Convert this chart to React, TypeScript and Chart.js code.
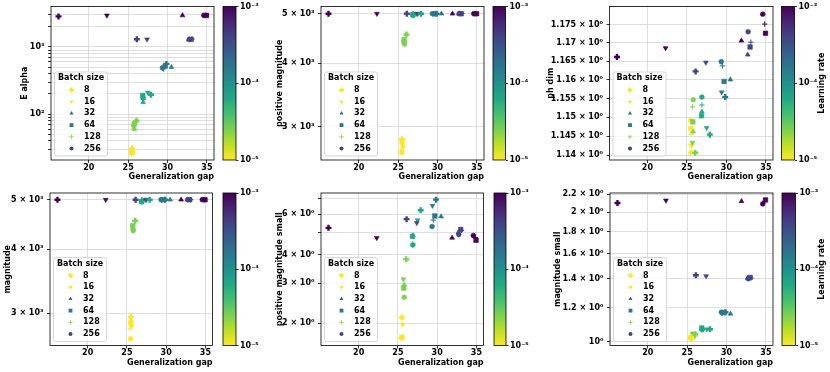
import React, { useEffect, useRef } from 'react';
import { Chart, registerables } from 'chart.js';

Chart.register(...registerables);

const FIG_W = 830;
const FIG_H = 372;
const FONT_FAMILY = '"DejaVu Sans", sans-serif';
Chart.defaults.font.family = FONT_FAMILY;

// ---------------- data ----------------
const BATCH_SIZES = [8, 16, 32, 64, 128, 256];
const LEARNING_RATES = [1e-5, 2.5e-5, 6.3e-5, 1.6e-4, 4e-4, 1e-3];

// rows follow LEARNING_RATES, columns follow BATCH_SIZES
const GEN_GAP = [
  [25.5, 25.6, 25.6, 25.5, 25.4, 25.45],
  [26.05, 25.7, 25.8, 25.75, 25.7, 25.8],
  [27.9, 27.5, 26.9, 26.85, 26.9, 26.9],
  [29.85, 29.4, 30.5, 29.7, 29.5, 29.35],
  [26.1, 27.4, 32.7, 33.0, 33.1, 32.75],
  [16.15, 22.3, 31.9, 34.95, 34.85, 34.6],
];
const E_ALPHA = [
  [31, 28, 26, 29, 25, 27],
  [80, 66, 60, 70, 62, 74],
  [195, 210, 150, 190, 165, 175],
  [560, 480, 500, 520, 470, 490],
  [1300, 1300, 1290, 1300, 1310, 1290],
  [2850, 2950, 2950, 2950, 2950, 2950],
];
const POS_MAGNITUDE = [
  [2840, 2730, 2760, 2800, 2700, 2670],
  [4550, 4400, 4420, 4450, 4380, 4360],
  [5000, 5000, 4990, 4980, 5000, 4960],
  [5000, 5000, 5000, 5000, 5000, 5000],
  [5000, 5000, 5000, 5000, 5000, 5000],
  [5000, 5000, 5000, 5000, 5000, 5000],
];
const PH_DIM = [
  [1.1407, 1.1425, 1.1458, 1.1471, 1.1427, 1.1492],
  [1.1406, 1.1433, 1.1462, 1.1488, 1.1528, 1.1547],
  [1.1454, 1.1472, 1.1515, 1.1504, 1.1533, 1.1554],
  [1.1554, 1.1567, 1.1601, 1.1596, 1.1638, 1.1649],
  [1.1623, 1.1647, 1.1668, 1.1689, 1.1702, 1.173],
  [1.1662, 1.1686, 1.1706, 1.1726, 1.1751, 1.1778],
];
const MAGNITUDE = [
  [2950, 2830, 2850, 2880, 2800, 2676],
  [4550, 4420, 4400, 4450, 4380, 4350],
  [5000, 5000, 4990, 4960, 5000, 4950],
  [5000, 5000, 5000, 5000, 5000, 5000],
  [5000, 5000, 5000, 5000, 5000, 5000],
  [5000, 5000, 5000, 5000, 5000, 5000],
];
const POS_MAGNITUDE_SMALL = [
  [2.12, 1.98, 1.75, 1.73, 1.72, 1.74],
  [3.81, 3.12, 2.95, 2.85, 2.9, 2.6],
  [6.25, 5.65, 4.85, 4.8, 4.45, 4.4],
  [6.95, 6.54, 5.86, 5.9, 5.66, 5.3],
  [5.71, 5.5, 5.0, 5.15, 5.1, 4.89],
  [5.23, 4.73, 4.73, 4.62, 4.75, 4.84],
];
const MAGNITUDE_SMALL = [
  [1.025, 1.02, 1.015, 1.022, 1.012, 1.018],
  [1.04, 1.045, 1.035, 1.03, 1.04, 1.03],
  [1.068, 1.068, 1.072, 1.075, 1.07, 1.065],
  [1.17, 1.165, 1.16, 1.168, 1.165, 1.17],
  [1.426, 1.42, 1.405, 1.41, 1.405, 1.4],
  [2.1, 2.13, 2.12, 2.135, 2.12, 2.09],
];

// ---------------- ticks ----------------
const X_TICKS = [20, 25, 30, 35];
const E_ALPHA_TICKS = [30, 40, 50, 60, 70, 80, 90, 100, 200, 300, 400, 500, 600, 700, 800, 900, 1000, 2000, 3000];
const E_ALPHA_LABELS = ['', '', '', '', '', '', '', '10²', '', '', '', '', '', '', '', '', '10³', '', ''];
const MAG_TICKS = [3000, 4000, 5000];
const MAG_LABELS = ['3 × 10³', '4 × 10³', '5 × 10³'];
const PH_DIM_TICKS = [1.14, 1.145, 1.15, 1.155, 1.16, 1.165, 1.17, 1.175];
const PH_DIM_LABELS = ['1.14 × 10⁰', '1.145 × 10⁰', '1.15 × 10⁰', '1.155 × 10⁰', '1.16 × 10⁰', '1.165 × 10⁰', '1.17 × 10⁰', '1.175 × 10⁰'];
const POS_MAG_SMALL_TICKS = [2, 3, 4, 5, 6, 7];
const POS_MAG_SMALL_LABELS = ['2 × 10⁰', '3 × 10⁰', '4 × 10⁰', '', '6 × 10⁰', ''];
const MAG_SMALL_TICKS = [1, 1.2, 1.4, 1.6, 1.8, 2, 2.2];
const MAG_SMALL_LABELS = ['10⁰', '1.2 × 10⁰', '1.4 × 10⁰', '1.6 × 10⁰', '1.8 × 10⁰', '2 × 10⁰', '2.2 × 10⁰'];
const CBAR_TICKS = [1e-5, 1e-4, 1e-3];
const CBAR_LABELS = ['10⁻⁵', '10⁻⁴', '10⁻³'];

// ---------------- styles ----------------
const MARKER_STYLE = ['cross', 'triangle', 'triangle', 'rect', 'cross', 'circle'];
const MARKER_ROTATION = [0, 180, 0, 0, 0, 0];
const MARKER_RADIUS = [3, 2.8, 2.8, 3.2, 2.7, 2.4];
const MARKER_BORDER = [2.4, 0.6, 0.6, 0.6, 1, 0.6];
const LEGEND_COLORS = ['#fde725', '#f1e51d', '#31688e', '#2a788e', '#86d549', '#414487'];
const GRID_COLOR = '#d5d5d5';

const VIRIDIS = [
  [68, 1, 84], [72, 36, 117], [65, 68, 135], [53, 95, 141], [42, 120, 142], [33, 145, 140],
  [34, 168, 132], [68, 191, 112], [122, 209, 81], [189, 223, 38], [253, 231, 37],
];
function viridis(t: number) {
  const c = Math.max(0, Math.min(1, t)) * 10;
  const i = Math.min(9, Math.floor(c));
  const f = c - i;
  const a = VIRIDIS[i], b = VIRIDIS[i + 1];
  const m = (k: number) => Math.round(a[k] + (b[k] - a[k]) * f);
  return `rgb(${m(0)},${m(1)},${m(2)})`;
}
const lrColor = (lr: number) => viridis(1 - (Math.log10(lr) + 5) / 2);

type Panel = {
  title: string;
  values: number[][];
  yMin: number;
  yMax: number;
  yTicks: number[];
  yLabels: string[];
  plot: [number, number, number, number];
  cbar: [number, number];
  yTitleX: number;
  xTitleY: number;
  cbarTitle: boolean;
};

const PANELS: Panel[] = [
  { title: 'E alpha', values: E_ALPHA, yMin: 20.8, yMax: 4000, yTicks: E_ALPHA_TICKS, yLabels: E_ALPHA_LABELS,
    plot: [51, 6.5, 214, 160], cbar: [223, 236], yTitleX: 25, xTitleY: 177, cbarTitle: false },
  { title: 'positive magnitude', values: POS_MAGNITUDE, yMin: 2585, yMax: 5165, yTicks: MAG_TICKS, yLabels: MAG_LABELS,
    plot: [321, 6.5, 484, 160], cbar: [493, 505.5], yTitleX: 280, xTitleY: 177, cbarTitle: false },
  { title: 'ph dim', values: PH_DIM, yMin: 1.1387, yMax: 1.1799, yTicks: PH_DIM_TICKS, yLabels: PH_DIM_LABELS,
    plot: [609.5, 6.5, 773, 160], cbar: [781.5, 794.5], yTitleX: 551, xTitleY: 177, cbarTitle: true },
  { title: 'magnitude', values: MAGNITUDE, yMin: 2596, yMax: 5153, yTicks: MAG_TICKS, yLabels: MAG_LABELS,
    plot: [50, 193, 212.5, 345.5], cbar: [223, 236], yTitleX: 7.5, xTitleY: 363, cbarTitle: false },
  { title: 'positive magnitude small', values: POS_MAGNITUDE_SMALL, yMin: 1.613, yMax: 7.43, yTicks: POS_MAG_SMALL_TICKS, yLabels: POS_MAG_SMALL_LABELS,
    plot: [321, 193, 483.5, 345.5], cbar: [494, 506], yTitleX: 280, xTitleY: 363, cbarTitle: false },
  { title: 'magnitude small', values: MAGNITUDE_SMALL, yMin: 0.979, yMax: 2.216, yTicks: MAG_SMALL_TICKS, yLabels: MAG_SMALL_LABELS,
    plot: [610, 193, 773, 345.5], cbar: [782, 795.5], yTitleX: 558, xTitleY: 363, cbarTitle: true },
];

const tickFont = { family: FONT_FAMILY, size: 8, weight: 'bold' as const, lineHeight: 1 };
const titleFont = { family: FONT_FAMILY, size: 8, weight: 'bold' as const, lineHeight: 1.2 };

const fixedTicks = (values: number[]) => (scale: any) => {
  scale.ticks = values.map((v) => ({ value: v }));
};
const labelFor = (values: number[], labels: string[]) => (value: any) => {
  const v = Number(value);
  const i = values.findIndex((t) => Math.abs(t - v) <= 1e-9 * Math.abs(t));
  return i >= 0 ? labels[i] : '';
};

function drawMarker(ctx: CanvasRenderingContext2D, j: number, x: number, y: number, color: string, scale: number) {
  const s = MARKER_STYLE[j];
  const r = MARKER_RADIUS[j] * scale;
  ctx.save();
  ctx.fillStyle = color;
  ctx.strokeStyle = color;
  ctx.beginPath();
  if (s === 'cross') {
    ctx.lineWidth = MARKER_BORDER[j] * scale;
    ctx.moveTo(x - r, y);
    ctx.lineTo(x + r, y);
    ctx.moveTo(x, y - r);
    ctx.lineTo(x, y + r);
    ctx.stroke();
  } else if (s === 'triangle') {
    const rot = (MARKER_ROTATION[j] * Math.PI) / 180;
    for (let k = 0; k < 3; k++) {
      const a = rot + (k * 2 * Math.PI) / 3;
      const px = x + Math.sin(a) * r;
      const py = y - Math.cos(a) * r;
      if (k === 0) ctx.moveTo(px, py);
      else ctx.lineTo(px, py);
    }
    ctx.closePath();
    ctx.fill();
  } else if (s === 'rect') {
    const h = r * Math.SQRT1_2;
    ctx.rect(x - h, y - h, 2 * h, 2 * h);
    ctx.fill();
  } else {
    ctx.arc(x, y, r, 0, Math.PI * 2);
    ctx.fill();
  }
  ctx.restore();
}

const framePlugin = {
  id: 'axesFrame',
  afterDatasetsDraw(chart: any) {
    const { ctx, chartArea: a } = chart;
    ctx.save();
    ctx.strokeStyle = '#000';
    ctx.lineWidth = 0.8;
    ctx.strokeRect(a.left, a.top, a.right - a.left, a.bottom - a.top);
    ctx.restore();
  },
};

const batchLegendPlugin = {
  id: 'batchLegend',
  afterDraw(chart: any) {
    const { ctx, chartArea: a } = chart;
    const bw = 53;
    const bh = 84;
    const x0 = a.left + 3.5;
    const y0 = a.bottom - 4 - bh;
    ctx.save();
    ctx.beginPath();
    const rr = 2;
    ctx.moveTo(x0 + rr, y0);
    ctx.arcTo(x0 + bw, y0, x0 + bw, y0 + bh, rr);
    ctx.arcTo(x0 + bw, y0 + bh, x0, y0 + bh, rr);
    ctx.arcTo(x0, y0 + bh, x0, y0, rr);
    ctx.arcTo(x0, y0, x0 + bw, y0, rr);
    ctx.closePath();
    ctx.fillStyle = 'rgba(255,255,255,0.8)';
    ctx.fill();
    ctx.strokeStyle = '#cccccc';
    ctx.lineWidth = 0.8;
    ctx.stroke();
    ctx.fillStyle = '#000';
    ctx.font = `bold 8px ${FONT_FAMILY}`;
    ctx.textAlign = 'center';
    ctx.textBaseline = 'middle';
    ctx.fillText('Batch size', x0 + bw / 2, y0 + 6);
    BATCH_SIZES.forEach((bs, j) => {
      const cy = y0 + 18 + j * 11.7;
      drawMarker(ctx, j, x0 + 17, cy, LEGEND_COLORS[j], 0.85);
      ctx.fillStyle = '#000';
      ctx.textAlign = 'left';
      ctx.fillText(String(bs), x0 + 29.5, cy);
    });
    ctx.restore();
  },
};

function panelConfig(p: Panel): any {
  const [l, t, r, b] = p.plot;
  const half = 4.8;
  const padLeft = p.yTitleX - half;
  const yWidth = l - padLeft;
  const padBottom = FIG_H - p.xTitleY - half;
  const xHeight = FIG_H - padBottom - b;
  const colors = LEARNING_RATES.map(lrColor);
  return {
    type: 'scatter',
    data: {
      datasets: BATCH_SIZES.map((bs, j) => ({
        label: String(bs),
        data: LEARNING_RATES.map((_, i) => ({ x: GEN_GAP[i][j], y: p.values[i][j] })),
        pointStyle: MARKER_STYLE[j],
        pointRotation: MARKER_ROTATION[j],
        pointRadius: MARKER_RADIUS[j],
        pointBorderWidth: MARKER_BORDER[j],
        pointBackgroundColor: colors,
        pointBorderColor: colors,
        showLine: false,
      })),
    },
    options: {
      responsive: false,
      animation: false,
      events: [],
      layout: { padding: { left: padLeft, top: t, right: FIG_W - r, bottom: padBottom } },
      plugins: { legend: { display: false }, tooltip: { enabled: false } },
      scales: {
        x: {
          type: 'linear',
          min: 15.2,
          max: 35.9,
          afterBuildTicks: fixedTicks(X_TICKS),
          afterFit: (s: any) => {
            s.height = xHeight;
            s.paddingLeft = 0;
            s.paddingRight = 0;
            s.paddingTop = 0;
            s.paddingBottom = 0;
          },
          ticks: { font: tickFont, color: '#000', padding: 0.5, maxRotation: 0, autoSkip: false, callback: (v: any) => String(v) },
          grid: { color: GRID_COLOR, lineWidth: 0.8, drawTicks: true, tickLength: 3, tickColor: '#000', tickWidth: 0.8 },
          border: { display: false },
          title: { display: true, text: 'Generalization gap', align: 'end', color: '#000', font: titleFont, padding: { top: 0, bottom: 0 } },
        },
        y: {
          type: 'logarithmic',
          min: p.yMin,
          max: p.yMax,
          afterBuildTicks: fixedTicks(p.yTicks),
          afterFit: (s: any) => {
            s.width = yWidth;
            s.paddingTop = 0;
            s.paddingBottom = 0;
            s.paddingLeft = 0;
            s.paddingRight = 0;
          },
          ticks: { font: tickFont, color: '#000', padding: 3.5, autoSkip: false, callback: labelFor(p.yTicks, p.yLabels) },
          grid: { color: GRID_COLOR, lineWidth: 0.8, drawTicks: true, tickLength: 3, tickColor: '#000', tickWidth: 0.8 },
          border: { display: false },
          title: { display: true, text: p.title, color: '#000', font: titleFont, padding: { top: 0, bottom: 0 } },
        },
      },
    },
    plugins: [framePlugin, batchLegendPlugin],
  };
}

function colorbarConfig(p: Panel): any {
  const [cl, cr] = p.cbar;
  const t = p.plot[1];
  const b = p.plot[3];
  const axisW = 30;
  const gradientPlugin = {
    id: 'cbarGradient',
    beforeDatasetsDraw(chart: any) {
      const { ctx, chartArea: a } = chart;
      ctx.save();
      const g = ctx.createLinearGradient(0, a.bottom, 0, a.top);
      for (let k = 0; k <= 20; k++) g.addColorStop(k / 20, viridis(1 - k / 20));
      ctx.fillStyle = g;
      ctx.fillRect(a.left, a.top, a.right - a.left, a.bottom - a.top);
      ctx.strokeStyle = '#000';
      ctx.lineWidth = 0.8;
      ctx.strokeRect(a.left, a.top, a.right - a.left, a.bottom - a.top);
      ctx.restore();
    },
  };
  const titlePlugin = {
    id: 'cbarTitle',
    afterDraw(chart: any) {
      const { ctx, chartArea: a } = chart;
      ctx.save();
      ctx.translate(821.5, (a.top + a.bottom) / 2);
      ctx.rotate(-Math.PI / 2);
      ctx.font = `bold 8px ${FONT_FAMILY}`;
      ctx.fillStyle = '#000';
      ctx.textAlign = 'center';
      ctx.textBaseline = 'middle';
      ctx.fillText('Learning rate', 0, 0);
      ctx.restore();
    },
  };
  return {
    type: 'scatter',
    data: { datasets: [] },
    options: {
      responsive: false,
      animation: false,
      events: [],
      layout: { padding: { left: cl, top: t, right: FIG_W - cr - axisW, bottom: FIG_H - b } },
      plugins: { legend: { display: false }, tooltip: { enabled: false } },
      scales: {
        x: { display: false, min: 0, max: 1 },
        y: {
          type: 'logarithmic',
          position: 'right',
          min: 1e-5,
          max: 1e-3,
          afterBuildTicks: fixedTicks(CBAR_TICKS),
          afterFit: (s: any) => {
            s.width = axisW;
            s.paddingTop = 0;
            s.paddingBottom = 0;
          },
          ticks: { font: tickFont, color: '#000', padding: 1.5, autoSkip: false, callback: labelFor(CBAR_TICKS, CBAR_LABELS) },
          grid: { drawOnChartArea: false, drawTicks: true, tickLength: 2.5, tickColor: '#000', tickWidth: 0.8 },
          border: { display: false },
        },
      },
    },
    plugins: p.cbarTitle ? [gradientPlugin, titlePlugin] : [gradientPlugin],
  };
}

function ChartLayer({ make }: { make: () => any }) {
  const ref = useRef<HTMLCanvasElement>(null);
  useEffect(() => {
    const chart = new Chart(ref.current as HTMLCanvasElement, make());
    return () => chart.destroy();
  }, []);
  return (
    <canvas
      ref={ref}
      width={FIG_W}
      height={FIG_H}
      style={{ position: 'absolute', left: 0, top: 0, width: FIG_W, height: FIG_H }}
    />
  );
}

export default function App() {
  return (
    <div style={{ position: 'absolute', left: 0, top: 0, width: FIG_W, height: FIG_H, background: '#fff', overflow: 'hidden' }}>
      {PANELS.map((p, i) => (
        <ChartLayer key={'panel' + i} make={() => panelConfig(p)} />
      ))}
      {PANELS.map((p, i) => (
        <ChartLayer key={'cbar' + i} make={() => colorbarConfig(p)} />
      ))}
    </div>
  );
}
